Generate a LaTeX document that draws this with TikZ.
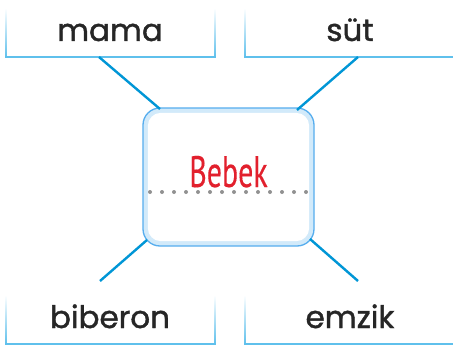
\documentclass[tikz,border=0pt]{standalone}
\usepackage{fontspec}
\setmainfont{Poppins}[FakeBold=1.3]
\newfontfamily\bebfont{PT Sans}[FakeBold=0.3]
\usetikzlibrary{calc}
\definecolor{conn}{RGB}{0,150,214}
\definecolor{boxline}{RGB}{95,192,236}
\definecolor{bandcol}{RGB}{210,234,250}
\definecolor{bebred}{RGB}{226,32,45}
\definecolor{dotcol}{RGB}{145,145,145}
\tikzset{
  wordtxt/.style={anchor=base, font=\fontsize{31}{31}\selectfont, text=black!85, inner sep=0pt},
  connline/.style={conn, line width=2.4pt},
  frameline/.style={boxline, line width=1.5pt},
}
\newcommand{\openframe}[4]{% x1 x2 ytop ybottom
  \shade[top color=white, bottom color=boxline] (#1-0.75,#3) rectangle (#1+0.75,#4);
  \shade[top color=white, bottom color=boxline] (#2-0.75,#3) rectangle (#2+0.75,#4);
  \draw[frameline] (#1-0.75,#4) -- (#2+0.75,#4);
}
\begin{document}
\begin{tikzpicture}[x=1pt,y=-1pt]
\useasboundingbox (0,0) rectangle (453,348);
\fill[white] (0,0) rectangle (453,348);

% frames
\openframe{6}{215}{8}{57}
\openframe{245}{455}{8}{57}
\openframe{6}{215}{295}{344}
\openframe{245}{455}{295}{344}

% center box
\node[draw=boxline!90!blue, line width=1.3pt, fill=bandcol, rounded corners=17pt,
      minimum width=171pt, minimum height=138pt, inner sep=0pt] (bebek) at (228.5,177) {};
\fill[white, rounded corners=13pt] ($(bebek.north west)+(5.5,5.5)$) rectangle ($(bebek.south east)+(-5.5,-5.5)$);
\draw[dotcol, line width=4pt, line cap=round, dash pattern=on 0pt off 12pt] (150,192) -- (308,192);
\node[anchor=base, inner sep=0pt, text=bebred] (bebekt) at (228.5,187)
  {\bebfont\scalebox{0.68}[1]{\fontsize{44}{44}\selectfont Bebek}};

% words
\node[wordtxt] (mama) at (110,41) {mama};
\node[wordtxt] (sut) at (350,41) {süt};
\node[wordtxt] (biberon) at (110,328) {biberon};
\node[wordtxt] (emzik) at (350,328) {emzik};

% connector ends
\coordinate (mamaE) at (99,57);
\coordinate (sutE) at (358,57);
\coordinate (bibE) at (100,281);
\coordinate (emzE) at (358,281);
\coordinate (cNW) at (160,109);
\coordinate (cNE) at (297,110);
\coordinate (cSW) at (147,240);
\coordinate (cSE) at (310,239);

\draw[connline] (mamaE) -- (cNW);
\draw[connline] (sutE) -- (cNE);
\draw[connline] (bibE) -- (cSW);
\draw[connline] (emzE) -- (cSE);
\end{tikzpicture}
\end{document}
